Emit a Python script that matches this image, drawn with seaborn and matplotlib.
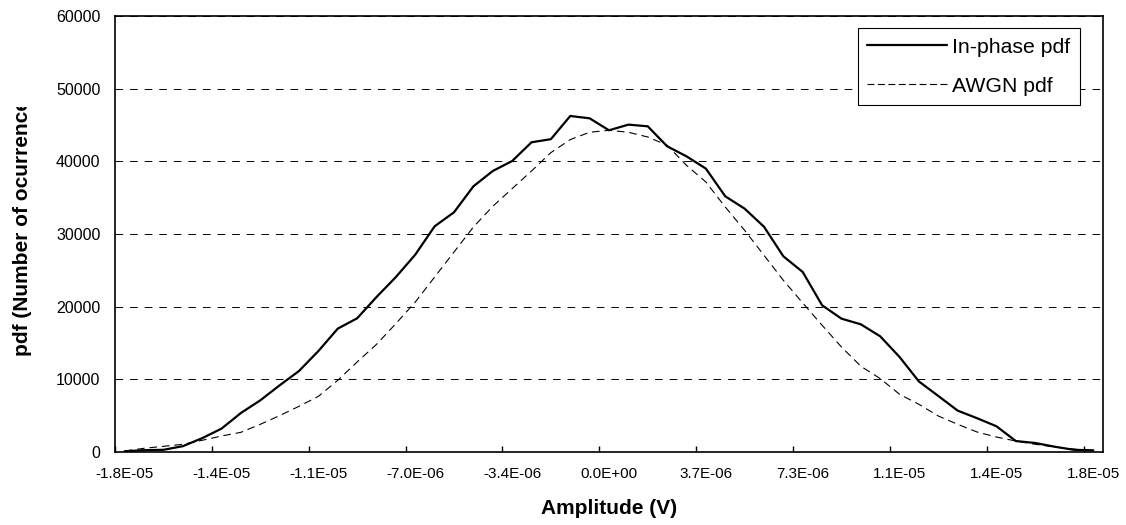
import numpy as np
import pandas as pd
import matplotlib
matplotlib.use("Agg")
import matplotlib.pyplot as plt
from matplotlib.lines import Line2D
from matplotlib.transforms import Bbox, TransformedBbox
import seaborn as sns

# Histogram counts per amplitude bin (51 bins)
inphase_pdf = [100, 250, 300, 800, 1900, 3220, 5370, 7110, 9180, 11150,
               13900, 16980, 18400, 21330, 24080, 27160, 31060, 32990, 36560, 38670,
               40040, 42620, 43050, 46240, 45920, 44270, 45050, 44820, 42070, 40690,
               39000, 35190, 33490, 31000, 26930, 24770, 20190, 18350, 17570, 15920,
               13070, 9700, 7710, 5690, 4650, 3540, 1510, 1240, 730, 300, 230]
awgn_pdf = [140, 510, 780, 1060, 1610, 2200, 2710, 3810, 5010, 6290,
            7660, 9870, 12390, 14820, 17670, 20640, 24080, 27520, 30960, 33810,
            36240, 38670, 41200, 42990, 44000, 44270, 44000, 43350, 42210, 39450,
            37160, 33720, 30510, 27070, 23630, 20510, 17440, 14450, 11800, 10100,
            7940, 6560, 4950, 3810, 2750, 2060, 1510, 1060, 690, 400, 200]

# Amplitude labels, one every 5 bins
amplitude_labels = ["-1.8E-05", "-1.4E-05", "-1.1E-05", "-7.0E-06", "-3.4E-06",
                    "0.0E+00", "3.7E-06", "7.3E-06", "1.1E-05", "1.4E-05", "1.8E-05"]
label_step = 5
y_ticks = [0, 10000, 20000, 30000, 40000, 50000, 60000]
series_names = ["In-phase pdf", "AWGN pdf"]

sns.set_theme(style="white")
plt.rcParams["font.family"] = ["Liberation Sans", "DejaVu Sans"]
plt.rcParams["lines.scale_dashes"] = False

W, H = 1126, 525
fig = plt.figure(figsize=(W / 100, H / 100), dpi=100)
fig.patch.set_facecolor("white")
ax = fig.add_axes([115 / W, (H - 452) / H, 988 / W, 436 / H])
ax.set_facecolor("white")

bins = np.arange(len(inphase_pdf))
df = pd.DataFrame({"bin": bins, series_names[0]: inphase_pdf, series_names[1]: awgn_pdf})

# horizontal dashed gridlines
ax.set_axisbelow(True)
ax.grid(axis="y", color="black", linewidth=0.7, linestyle=(0, (5.5, 5)))
ax.grid(axis="x", visible=False)

sns.lineplot(data=df, x="bin", y=series_names[1], color="black", linewidth=0.8, ax=ax)
ax.lines[-1].set_dashes((5.5, 3.5))
sns.lineplot(data=df, x="bin", y=series_names[0], color="black", linewidth=1.6, ax=ax)

ax.set_xlim(-0.5, len(bins) - 0.5)
ax.set_ylim(y_ticks[0], y_ticks[-1])

# category-style x axis: labels at bin centres, tick marks between groups of bins
label_pos = bins[::label_step]
ax.set_xticks(label_pos, labels=amplitude_labels)
ax.set_xticks(np.arange(-0.5, len(bins) - 1, label_step), minor=True)
ax.tick_params(axis="x", which="major", length=0, pad=11, labelsize=11, labelcolor="black")
ax.tick_params(axis="x", which="minor", direction="in", length=4, width=1, color="black",
               bottom=True)
ax.set_yticks(y_ticks, labels=[str(v) for v in y_ticks])
ax.tick_params(axis="y", length=0, pad=10.5, labelsize=11.5, labelcolor="black")

for sp in ax.spines.values():
    sp.set_color("black")
    sp.set_linewidth(1.2)
    sp.set_visible(True)

ax.set_xlabel("Amplitude (V)", fontsize=15, fontweight="bold", color="black")
ax.xaxis.set_label_coords(0.5, -(499 - 452) / 436)
ax.set_ylabel("")

# y-axis title, cut off at the top where space runs out
ylab = fig.text(22 / W, (H - 356) / H, "pdf (Number of ocurrences)", rotation=90,
                rotation_mode="anchor", ha="left", va="center",
                fontsize=15, fontweight="bold", color="black")
ylab.set_clip_box(TransformedBbox(Bbox([[0, 0], [1, (H - 107) / H]]), fig.transFigure))
ylab.set_clip_on(True)

handles = [Line2D([], [], color="black", linewidth=1.6),
           Line2D([], [], color="black", linewidth=0.8, dashes=(5, 2.5))]
leg = ax.legend(handles, series_names, loc="upper right",
                bbox_to_anchor=((1080 - 115) / 988, (452 - 28) / 436),
                borderaxespad=0, fontsize=15.3, frameon=True, fancybox=False,
                framealpha=1, edgecolor="black", handlelength=3.75,
                handletextpad=0.25, labelspacing=0.95, borderpad=0.45)
leg.get_frame().set_linewidth(0.8)
for t in leg.get_texts():
    t.set_color("black")

fig.savefig("out.png", dpi=100, facecolor="white")
